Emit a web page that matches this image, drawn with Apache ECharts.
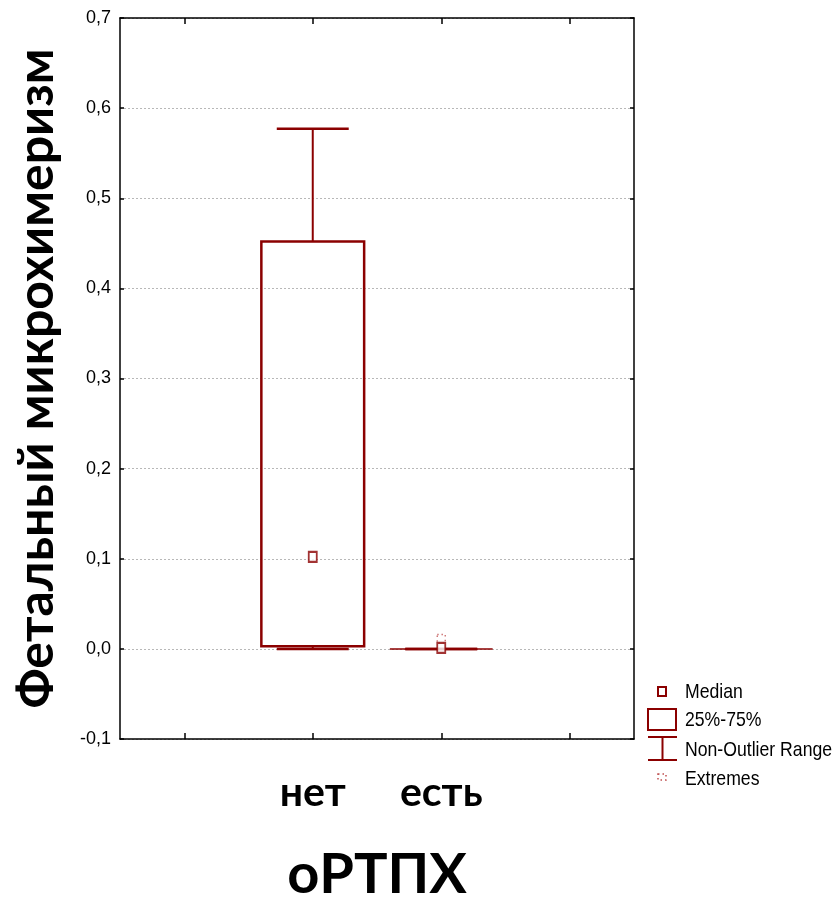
<!DOCTYPE html>
<html><head><meta charset="utf-8">
<script src="https://cdn.jsdelivr.net/npm/echarts@6/dist/echarts.min.js"></script>
<style>html,body{margin:0;padding:0;background:#fff}#c{width:837px;height:900px}</style>
</head><body><div id="c"></div>
<script>
// ---- data ----
const categories = ['', 'нет', 'есть', ''];
const boxQ1 = [null, 0.003, 0.0, null];
const boxQ3 = [null, 0.452, 0.0, null];
const whiskerMin = [null, 0.0, 0.0, null];
const whiskerMax = [null, 0.577, 0.0, null];
const medians = [null, 0.102, 0.001, null];
const extremes = [[2, 0.011]];
const yTicks = [-0.1, 0.0, 0.1, 0.2, 0.3, 0.4, 0.5, 0.6, 0.7];
const legendLabels = ['Median', '25%-75%', 'Non-Outlier Range', 'Extremes'];

const RED = '#8b0000';
const sans = "'Liberation Sans', Arial, sans-serif";
const boldF = "Lato, 'Open Sans', sans-serif";

const boxData = [], whiskData = [], medData = [];
categories.forEach((c, i) => {
  if (boxQ1[i] !== null) {
    boxData.push([i, boxQ1[i], boxQ3[i]]);
    whiskData.push([i, whiskerMin[i], boxQ1[i], boxQ3[i], whiskerMax[i]]);
    medData.push([i, medians[i]]);
  }
});

const chart = echarts.init(document.getElementById('c'), null, {renderer: 'canvas'});
const axisLine = {show: true, onZero: false, lineStyle: {color: '#000', width: 1.5}};
const tickStyle = {color: '#000', width: 1.5};
chart.setOption({
  animation: false,
  grid: {left: 120, right: 203, top: 18, bottom: 161, outerBoundsMode: 'none', containLabel: false},
  xAxis: [{
    type: 'category', data: categories, boundaryGap: true,
    axisLine: axisLine,
    axisTick: {show: true, alignWithLabel: true, inside: true, length: 6, lineStyle: tickStyle},
    axisLabel: {fontFamily: boldF, fontWeight: 'bold', fontSize: 41, color: '#000', margin: 33, interval: 0},
    name: 'оРТПХ', nameLocation: 'middle', nameGap: 108,
    nameTextStyle: {fontFamily: boldF, fontWeight: 'bold', fontSize: 56, color: '#000'}
  }, {
    type: 'category', data: categories, position: 'top', boundaryGap: true,
    axisLine: axisLine,
    axisTick: {show: true, alignWithLabel: true, inside: true, length: 6, lineStyle: tickStyle},
    axisLabel: {show: false}
  }],
  yAxis: [{
    type: 'value', min: -0.1, max: 0.7, interval: 0.1,
    axisLine: axisLine,
    axisTick: {show: true, inside: true, length: 4, lineStyle: tickStyle},
    axisLabel: {fontFamily: sans, fontSize: 18, color: '#000', margin: 9,
      formatter: v => (Math.round(v * 10) / 10).toFixed(1).replace('.', ',')},
    splitLine: {show: true, lineStyle: {color: '#b8b8b8', type: [2, 2], width: 1}},
    name: 'Фетальный микрохимеризм', nameLocation: 'middle', nameGap: 58, nameRotate: 90,
    nameTextStyle: {fontFamily: boldF, fontWeight: 'bold', fontSize: 50, color: '#000'}
  }, {
    type: 'value', min: -0.1, max: 0.7, interval: 0.1, position: 'right',
    axisLine: axisLine,
    axisTick: {show: true, inside: true, length: 4, lineStyle: tickStyle},
    axisLabel: {show: false}, splitLine: {show: false}
  }],
  series: [{
    name: '25%-75%', type: 'custom', xAxisIndex: 0, yAxisIndex: 0,
    data: boxData,
    renderItem: function (params, api) {
      const x = api.value(0);
      const p1 = api.coord([x, api.value(1)]);
      const p3 = api.coord([x, api.value(2)]);
      const w = api.size([1, 0])[0] * 0.8;
      const h = p1[1] - p3[1];
      if (h < 1) {
        return {type: 'line', shape: {x1: p1[0] - w / 2, y1: p1[1], x2: p1[0] + w / 2, y2: p1[1]},
          style: {stroke: RED, lineWidth: 1.5}};
      }
      return {type: 'rect', shape: {x: p3[0] - w / 2, y: p3[1], width: w, height: h},
        style: {fill: 'rgba(0,0,0,0)', stroke: RED, lineWidth: 2.5}};
    }, z: 3
  }, {
    name: 'Non-Outlier Range', type: 'custom', xAxisIndex: 0, yAxisIndex: 0,
    data: whiskData,
    renderItem: function (params, api) {
      const x = api.value(0);
      const pmin = api.coord([x, api.value(1)]);
      const pq1 = api.coord([x, api.value(2)]);
      const pq3 = api.coord([x, api.value(3)]);
      const pmax = api.coord([x, api.value(4)]);
      const cw = api.size([1, 0])[0] * 0.56;
      const st = {stroke: RED, lineWidth: 2};
      return {type: 'group', children: [
        {type: 'line', shape: {x1: pq3[0], y1: pq3[1], x2: pmax[0], y2: pmax[1]}, style: st},
        {type: 'line', shape: {x1: pmin[0], y1: pmin[1], x2: pq1[0], y2: pq1[1]}, style: st},
        {type: 'line', shape: {x1: pmax[0] - cw / 2, y1: pmax[1], x2: pmax[0] + cw / 2, y2: pmax[1]}, style: {stroke: RED, lineWidth: 2.5}},
        {type: 'line', shape: {x1: pmin[0] - cw / 2, y1: pmin[1], x2: pmin[0] + cw / 2, y2: pmin[1]}, style: {stroke: RED, lineWidth: 2.5}}
      ]};
    }, z: 4
  }, {
    name: 'Median', type: 'scatter', data: medData, symbol: 'rect', symbolSize: [8, 10],
    itemStyle: {color: '#fff', borderColor: RED, borderWidth: 2}, z: 6
  }, {
    name: 'Extremes', type: 'scatter', data: extremes, symbol: 'rect', symbolSize: [8, 9],
    itemStyle: {color: 'rgba(0,0,0,0)', borderColor: '#c05050', borderWidth: 1.5, borderType: [1.5, 3]}, z: 5
  }],
  graphic: [
    {type: 'rect', shape: {x: 658, y: 687, width: 8, height: 9}, style: {fill: '#fff', stroke: RED, lineWidth: 2}},
    {type: 'text', x: 685, y: 692, scaleX: 0.84, style: {text: legendLabels[0], font: "21px " + sans, fill: '#000', verticalAlign: 'middle'}},
    {type: 'rect', shape: {x: 648, y: 709, width: 28, height: 21}, style: {fill: '#fff', stroke: RED, lineWidth: 2}},
    {type: 'text', x: 685, y: 720, scaleX: 0.84, style: {text: legendLabels[1], font: "21px " + sans, fill: '#000', verticalAlign: 'middle'}},
    {type: 'line', shape: {x1: 648, y1: 737, x2: 677, y2: 737}, style: {stroke: RED, lineWidth: 2}},
    {type: 'line', shape: {x1: 662.5, y1: 737, x2: 662.5, y2: 760}, style: {stroke: RED, lineWidth: 2}},
    {type: 'line', shape: {x1: 648, y1: 760, x2: 677, y2: 760}, style: {stroke: RED, lineWidth: 2}},
    {type: 'text', x: 685, y: 750, scaleX: 0.84, style: {text: legendLabels[2], font: "21px " + sans, fill: '#000', verticalAlign: 'middle'}},
    {type: 'rect', shape: {x: 658, y: 774, width: 8, height: 6}, style: {fill: 'none', stroke: '#c05050', lineWidth: 1.5, lineDash: [1.5, 3]}},
    {type: 'text', x: 685, y: 779, scaleX: 0.84, style: {text: legendLabels[3], font: "21px " + sans, fill: '#000', verticalAlign: 'middle'}}
  ]
});
</script></body></html>
